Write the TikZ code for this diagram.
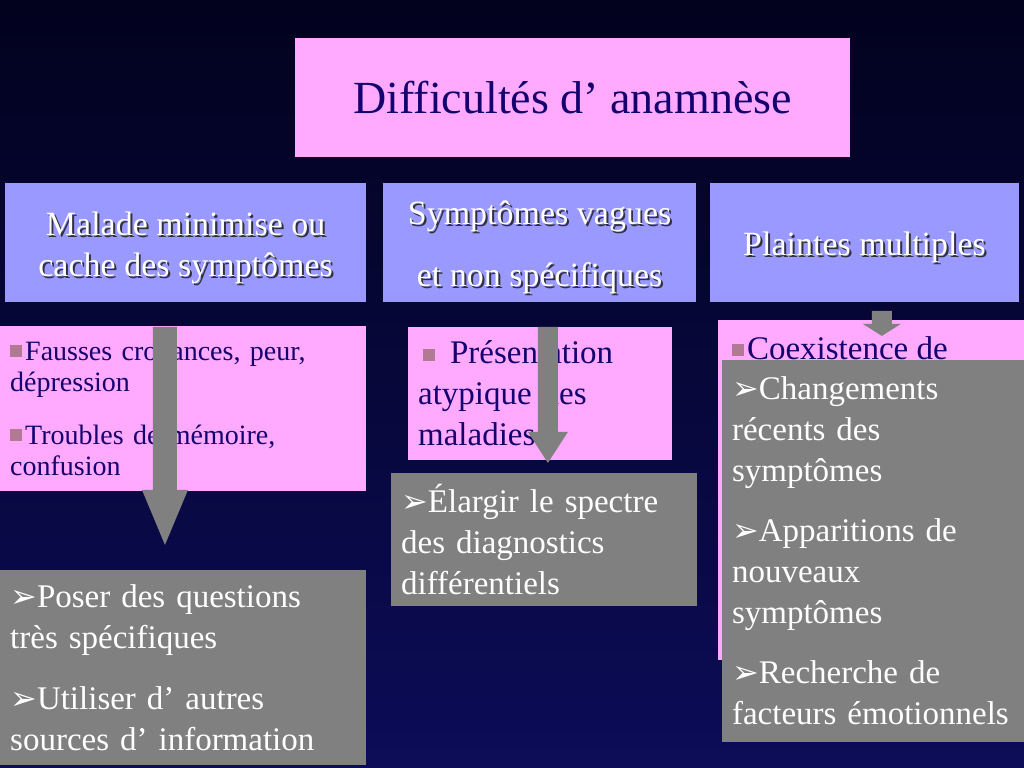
\documentclass[tikz,border=0pt]{standalone}
\usepackage{fontspec}
\setmainfont{Liberation Serif}
\newfontfamily\symfont{DejaVu Sans}
\usetikzlibrary{calc}
\usetikzlibrary{positioning}
\definecolor{fondHaut}{HTML}{02021E}
\definecolor{fondBas}{HTML}{0C0C58}
\definecolor{roseColor}{HTML}{FFAAFF}
\definecolor{lilasColor}{HTML}{9999FF}
\definecolor{grisColor}{HTML}{808080}
\definecolor{marineColor}{HTML}{14006E}
\definecolor{puceColor}{HTML}{B07A92}
\definecolor{ombreColor}{HTML}{303040}

\newcommand{\puce}{\raisebox{3pt}{\textcolor{puceColor}{\rule{12pt}{12pt}}}}
\newcommand{\fleche}{{\symfont\fontsize{32}{32}\selectfont ➢}}
\newcommand{\ombre}[1]{\leavevmode\rlap{\kern2pt\raisebox{-2pt}{\textcolor{ombreColor}{#1}}}#1}
\newcommand{\blocfleche}[5]{%
  \fill[grisColor] ($(#1)+(-#3,0)$) -- ($(#2)+(-#3,-#5)$) -- ($(#2)+(-#4,-#5)$) -- (#2)
    -- ($(#2)+(#4,-#5)$) -- ($(#2)+(#3,-#5)$) -- ($(#1)+(#3,0)$) -- cycle;}

\begin{document}
\begin{tikzpicture}[x=1pt, y=-1pt]
			\tikzset{
				titre/.style={fill=roseColor, text=marineColor, anchor=north west, align=center,
					font=\fontsize{46}{50}\selectfont},
				entete/.style={fill=lilasColor, anchor=north west},
				enteteTexte/.style={text=white, align=center, inner sep=0pt,
					font=\fontsize{34}{41}\selectfont},
				rose/.style={fill=roseColor, text=marineColor, anchor=north west, align=left, inner xsep=10pt},
				gris/.style={fill=grisColor, text=white, anchor=north west, align=left, inner xsep=10pt,
					font=\fontsize{33}{41}\selectfont}
			}
			\fill[top color=fondHaut, bottom color=fondBas] (0,0) rectangle (1024,768);
			\node[titre, minimum width=555, minimum height=119] (titre) at (295,38) {Difficultés d’ anamnèse};
			\node[entete, minimum width=361, minimum height=119] (h1) at (5,183) {};
			\node[entete, minimum width=313, minimum height=119] (h2) at (383,183) {};
			\node[entete, minimum width=309, minimum height=119] (h3) at (710,183) {};
			\node[enteteTexte] (h1t) at ($(h1.center)+(0,6)$) {\ombre{Malade minimise ou}\\\ombre{cache des symptômes}};
			\node[enteteTexte] (h2t) at ($(h2.center)+(0,6)$) {\ombre{Symptômes vagues}\\[21pt]\ombre{et non spécifiques}};
			\node[enteteTexte] (h3t) at ($(h3.center)+(0,6)$) {\ombre{Plaintes multiples}};
			\node[rose, minimum width=366, minimum height=165, text width=346pt, font=\fontsize{28}{31}\selectfont] (p1) at (0,326)
				{\puce\kern3pt Fausses croyances, peur,\\dépression\\[22pt]\puce\kern3pt Troubles de mémoire,\\confusion};
			\coordinate (a1d) at (165,327);
			\coordinate (a1f) at (165,545);
			\blocfleche{a1d}{a1f}{12}{23}{55}
			\node[gris, minimum width=366, minimum height=195, text width=346pt] (g1) at (0,570)
				{\fleche Poser des questions\\très spécifiques\\[20pt]\fleche Utiliser d’ autres\\sources d’ information};
			\node[rose, minimum width=264, minimum height=133, text width=244pt, font=\fontsize{33}{41}\selectfont] (p2) at (408,327)
				{\kern5pt\puce\kern15pt Présentation\\atypique des\\maladies};
			\coordinate (a2d) at (548,327);
			\coordinate (a2f) at (548,463);
			\blocfleche{a2d}{a2f}{10}{20}{31}
			\node[gris, minimum width=306, minimum height=133, text width=286pt] (g2) at (391,473)
				{\fleche Élargir le spectre\\des diagnostics\\différentiels};
			\node[rose, minimum width=306, minimum height=340] (p3) at (718,320) {};
			\node[text=marineColor, anchor=west, inner sep=0pt, font=\fontsize{33}{41}\selectfont] (p3t) at (732,348) {\puce\kern3pt Coexistence de};
			\coordinate (a3d) at (882,311);
			\coordinate (a3f) at (882,336);
			\blocfleche{a3d}{a3f}{10}{19}{12}
			\node[gris, minimum width=302, minimum height=382, text width=282pt] (g3) at (722,360)
				{\fleche Changements\\récents des\\symptômes\\[19pt]\fleche Apparitions de\\nouveaux\\symptômes\\[19pt]\fleche Recherche de\\facteurs émotionnels};
		\end{tikzpicture}
\end{document}
